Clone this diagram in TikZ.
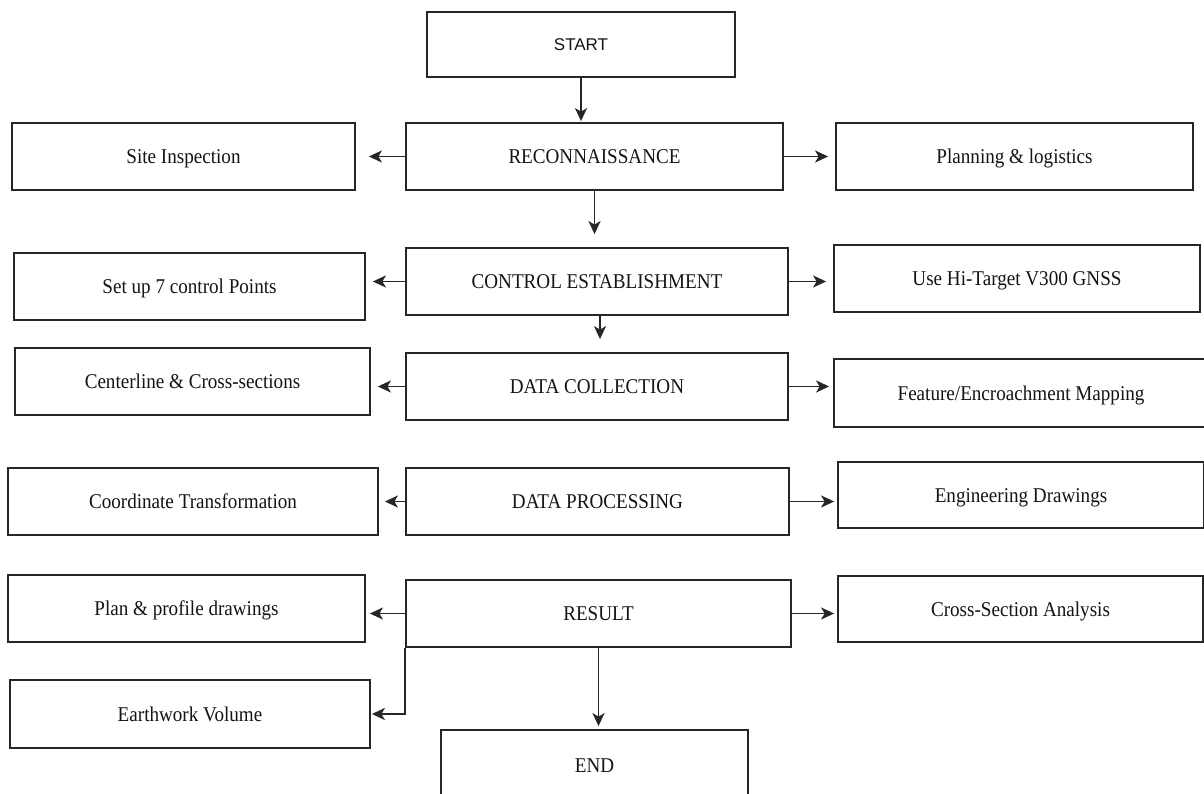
\documentclass[tikz,border=0pt]{standalone}
\usepackage{fontspec}
\setmainfont{Liberation Serif}
\newfontfamily\startfont{Liberation Sans}
\usetikzlibrary{arrows.meta}
\newcommand{\sx}[1]{\scalebox{0.91}[1]{#1}}
\begin{document}
\begin{tikzpicture}[x=1pt,y=-1pt,
  box/.style={draw=black!85, line width=1.8pt, rectangle, inner sep=0pt,
    font=\fontsize{21}{24}\selectfont, text=black!92, text height=14pt, text depth=0pt},
  arr/.style={draw=black!85, line width=1.8pt, -{Stealth[length=13pt,width=12pt,inset=3.5pt]}},
]
\useasboundingbox (0,0) rectangle (1204,794);
\clip (0,0) rectangle (1204,794);
\fill[white] (0,0) rectangle (1204,794);

\node[box, minimum width=308pt, minimum height=65pt, font=\startfont\fontsize{17}{20}\selectfont, text height=12pt] (start) at (581,44.5) {START};
\node[box, minimum width=377pt, minimum height=67pt] (recon) at (594.5,156.5) {\sx{RECONNAISSANCE}};
\node[box, minimum width=343pt, minimum height=67pt] (site) at (183.5,156.5) {\sx{Site Inspection}};
\node[box, minimum width=357pt, minimum height=67pt] (plan) at (1014.5,156.5) {\sx{Planning \& logistics}};

\node[box, minimum width=382pt, minimum height=67pt] (ctrl) at (597,281.5) {\sx{CONTROL ESTABLISHMENT}};
\node[box, minimum width=351pt, minimum height=67pt] (setup) at (189.5,286.5) {\sx{Set up 7 control Points}};
\node[box, minimum width=366pt, minimum height=67pt] (gnss) at (1017,278.5) {\sx{Use Hi-Target V300 GNSS}};

\node[box, minimum width=382pt, minimum height=67pt] (dc) at (597,386.5) {\sx{DATA COLLECTION}};
\node[box, minimum width=355pt, minimum height=67pt] (center) at (192.5,381.5) {\sx{Centerline \& Cross-sections}};
\node[box, minimum width=374pt, minimum height=68pt] (feature) at (1021,393) {\sx{Feature/Encroachment Mapping}};

\node[box, minimum width=383pt, minimum height=67pt] (dp) at (597.5,501.5) {\sx{DATA PROCESSING}};
\node[box, minimum width=370pt, minimum height=67pt] (coord) at (193,501.5) {\sx{Coordinate Transformation}};
\node[box, minimum width=366pt, minimum height=66pt] (eng) at (1021,495) {\sx{Engineering Drawings}};

\node[box, minimum width=385pt, minimum height=67pt] (result) at (598.5,613.5) {\sx{RESULT}};
\node[box, minimum width=357pt, minimum height=67pt] (planprof) at (186.5,608.5) {\sx{Plan \& profile drawings}};
\node[box, minimum width=365pt, minimum height=66pt] (cross) at (1020.5,609) {\sx{Cross-Section Analysis}};
\node[box, minimum width=360pt, minimum height=68pt] (earth) at (190,714) {\sx{Earthwork Volume}};
\node[box, minimum width=307pt, minimum height=70pt] (end) at (594.5,765) {\sx{END}};

% vertical connectors
\draw[arr, shorten >=1pt] (start.south) -- (start.south |- recon.north);
\draw[arr, shorten >=13pt] (recon.south) -- (recon.south |- ctrl.north);
\draw[arr, shorten >=13pt] ([xshift=3pt]ctrl.south) -- ([xshift=3pt]ctrl.south |- dc.north);
\draw[arr, shorten >=3pt] (result.south) -- (result.south |- end.north);

% side connectors
\draw[arr, shorten >=13pt] (recon.west) -- (site.east);
\draw[arr, shorten >=7pt] (recon.east) -- (plan.west);
\draw[arr, shorten >=7pt] (ctrl.west) -- (ctrl.west -| setup.east);
\draw[arr, shorten >=7pt] (ctrl.east) -- (ctrl.east -| gnss.west);
\draw[arr, shorten >=7pt] (dc.west) -- (dc.west -| center.east);
\draw[arr, shorten >=4pt] (dc.east) -- (dc.east -| feature.west);
\draw[arr, shorten >=6pt] (dp.west) -- (dp.west -| coord.east);
\draw[arr, shorten >=3pt] (dp.east) -- (dp.east -| eng.west);
\draw[arr, shorten >=4pt] (result.west) -- (result.west -| planprof.east);
\draw[arr, shorten >=3pt] (result.east) -- (result.east -| cross.west);
\draw[arr, shorten >=1pt] (result.south west) |- (earth.east);
\end{tikzpicture}
\end{document}
